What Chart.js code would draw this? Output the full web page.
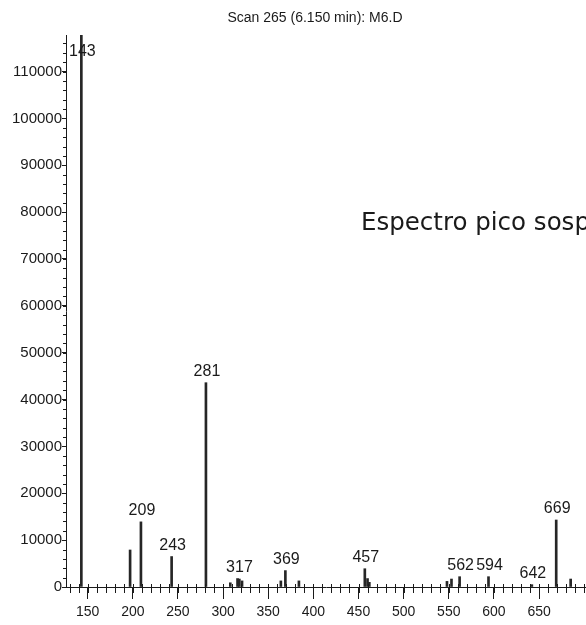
<!DOCTYPE html>
<html>
<head>
<meta charset="utf-8">
<script src="https://cdn.jsdelivr.net/npm/chart.js@4/dist/chart.umd.min.js"></script>
<style>
    html, body { margin: 0; padding: 0; background: #fff; }
    canvas { display: block; }
</style>
</head>
<body>
<canvas id="spectrum" width="586" height="625"></canvas>
<script>
// Peaks (m/z, abundance)
const mzValues = [143, 197, 209, 243, 281, 308, 316, 318, 321, 364, 369, 384, 457, 460, 462, 548, 553, 562, 594, 642, 669, 685];
const abundance = [117800, 7900, 13900, 6500, 43600, 900, 1800, 1700, 1300, 1300, 3500, 1300, 3900, 1800, 1000, 1200, 1700, 2200, 2200, 500, 14300, 1700];
const peakLabels = [143, 209, 243, 281, 317, 369, 457, 562, 594, 642, 669];

// Axis ticks
const xTicks = [150, 200, 250, 300, 350, 400, 450, 500, 550, 600, 650];
const yTicks = [0, 10000, 20000, 30000, 40000, 50000, 60000, 70000, 80000, 90000, 100000, 110000];

const titleText = "Scan 265 (6.150 min): M6.D";
const noteText = "Espectro pico sosp";

const sans = "'Liberation Sans', Arial, sans-serif";
const ink = "#1a1a1a";

// Minor ticks, peak labels, title and note
const decorations = {
    id: "decorations",
    afterDraw(chart) {
        const ctx = chart.ctx, x = chart.scales.x, y = chart.scales.y, area = chart.chartArea;
        ctx.save();
        ctx.strokeStyle = ink;
        ctx.lineWidth = 1;

        // Minor ticks on x (every 10) crossing the axis
        for (let v = 130; v <= 700; v += 10) {
            const px = Math.round(x.getPixelForValue(v)) + 0.5;
            ctx.beginPath();
            ctx.moveTo(px, area.bottom - 3);
            ctx.lineTo(px, area.bottom + 6);
            ctx.stroke();
        }
        // Minor ticks on y (every 2000)
        for (let v = 0; v <= 116000; v += 2000) {
            const py = Math.round(y.getPixelForValue(v)) + 0.5;
            ctx.beginPath();
            ctx.moveTo(area.left - 3, py);
            ctx.lineTo(area.left, py);
            ctx.stroke();
        }

        // Peak labels
        ctx.fillStyle = ink;
        ctx.font = "16px " + sans;
        ctx.textAlign = "center";
        ctx.textBaseline = "bottom";
        for (const lab of peakLabels) {
            let top = 0;
            mzValues.forEach((m, i) => { if (Math.abs(m - lab) <= 2) top = Math.max(top, abundance[i]); });
            let py = y.getPixelForValue(top) - 3;
            if (py < area.top + 20) py = area.top + 25;
            ctx.fillText(String(lab), x.getPixelForValue(lab) + 1, py);
        }

        // Title
        ctx.font = "14px " + sans;
        ctx.textBaseline = "middle";
        ctx.fillText(titleText, 315, 18);

        // Note (runs off the right edge, as in the source)
        ctx.font = "24.5px 'DejaVu Sans', sans-serif";
        ctx.textAlign = "left";
        ctx.fillText(noteText, 361, 224);
        ctx.restore();
    }
};

new Chart(document.getElementById("spectrum"), {
    type: "bar",
    data: {
        datasets: [{
            data: mzValues.map((m, i) => ({ x: m, y: abundance[i] })),
            backgroundColor: "#262626",
            barThickness: 2
        }]
    },
    options: {
        responsive: false,
        animation: false,
        layout: { padding: { top: 35, right: 0, bottom: 0, left: 0 } },
        plugins: { legend: { display: false }, tooltip: { enabled: false } },
        scales: {
            x: {
                type: "linear",
                offset: false,
                min: 126,
                max: 702,
                afterBuildTicks: axis => { axis.ticks = xTicks.map(v => ({ value: v })); },
                afterFit: axis => { axis.height = 38; },
                grid: { offset: false, drawOnChartArea: false, color: ink, tickLength: 12, tickWidth: 1 },
                border: { color: ink, width: 1 },
                ticks: { color: ink, font: { family: sans, size: 14 }, padding: 5, maxRotation: 0, autoSkip: false, callback: v => String(v) }
            },
            y: {
                min: 0,
                max: 117800,
                afterBuildTicks: axis => { axis.ticks = yTicks.map(v => ({ value: v })); },
                afterFit: axis => { axis.width = 66; },
                grid: { drawOnChartArea: false, color: ink, tickLength: 4, tickWidth: 1 },
                border: { color: ink, width: 1 },
                ticks: { color: ink, font: { family: sans, size: 15 }, padding: 0, autoSkip: false, callback: v => String(v) }
            }
        }
    },
    plugins: [decorations]
});
</script>
</body>
</html>
